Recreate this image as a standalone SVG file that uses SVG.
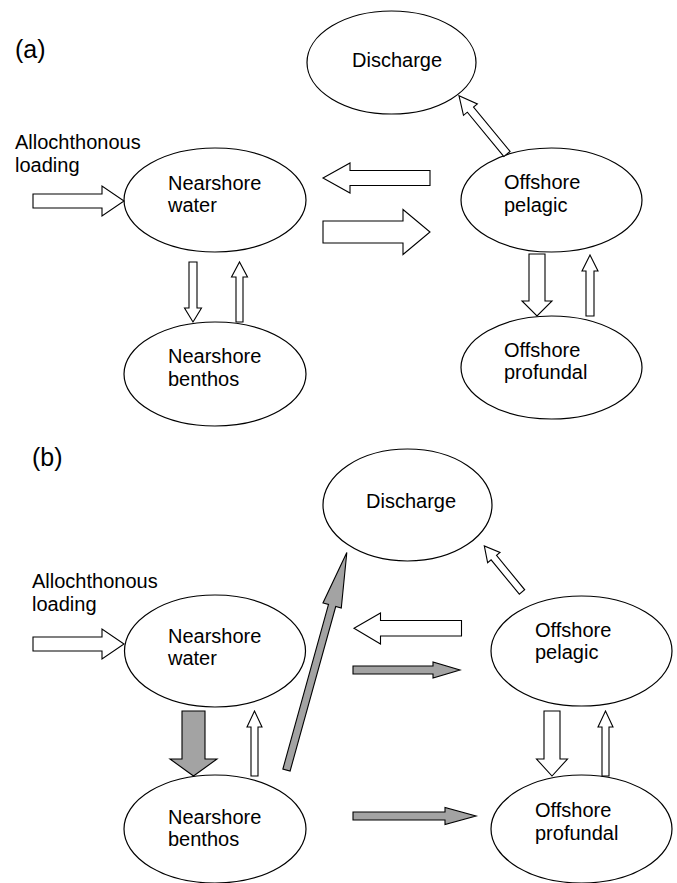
<svg xmlns="http://www.w3.org/2000/svg" width="677" height="883" viewBox="0 0 677 883">
<style>
.node{fill:#fff;stroke:#000;stroke-width:1.2}
.lbl{font-family:"Liberation Sans",Arial,sans-serif;font-size:20px;fill:#000}
.panel{font-family:"Liberation Sans",Arial,sans-serif;font-size:25px;fill:#000}
.aw{fill:#fff;stroke:#000;stroke-width:1.1;stroke-linejoin:miter}
.ag{fill:#a3a3a3;stroke:#000;stroke-width:1.1;stroke-linejoin:miter}
</style>
<rect width="677" height="883" fill="#fff"/>
<g id="panel-a">
<text class="panel" x="15" y="58">(a)</text>
<text class="lbl" x="15" y="149">Allochthonous</text>
<text class="lbl" x="15" y="172">loading</text>
<g id="a-discharge"><ellipse class="node" cx="391.5" cy="62.5" rx="84.5" ry="51.5"/><text class="lbl" x="352" y="67">Discharge</text></g>
<g id="a-nearshore-water"><ellipse class="node" cx="215" cy="200" rx="91" ry="52"/><text class="lbl" x="168" y="190">Nearshore</text><text class="lbl" x="168" y="212">water</text></g>
<g id="a-offshore-pelagic"><ellipse class="node" cx="551.5" cy="200" rx="90.5" ry="52"/><text class="lbl" x="504" y="189">Offshore</text><text class="lbl" x="504" y="212">pelagic</text></g>
<g id="a-nearshore-benthos"><ellipse class="node" cx="215" cy="374" rx="91" ry="52"/><text class="lbl" x="168" y="363">Nearshore</text><text class="lbl" x="168" y="386">benthos</text></g>
<g id="a-offshore-profundal"><ellipse class="node" cx="551.5" cy="367.5" rx="90.5" ry="51.5"/><text class="lbl" x="504" y="357">Offshore</text><text class="lbl" x="504" y="379">profundal</text></g>
<g id="a-connectors">
<polygon class="aw" points="33,194 102,194 102,186 124,201 102,216 102,208 33,208"/>
<polygon class="aw" points="430,170.5 350,170.5 350,163 323,178 350,193 350,185.5 430,185.5"/>
<polygon class="aw" points="323,221 403,221 403,209.5 430,232 403,254.5 403,243 323,243"/>
<polygon class="aw" transform="translate(507,154) rotate(-129.5)" points="0,-4 57.5,-4 57.5,-9 75.5,0 57.5,9 57.5,4 0,4"/>
<polygon class="aw" points="189,262 197,262 197,308 201.5,308 193,322 184.5,308 189,308"/>
<polygon class="aw" points="236,322 243,322 243,277 247.5,277 239.5,262 231.5,277 236,277"/>
<polygon class="aw" points="529,254 545,254 545,301 552,301 537,316 522,301 529,301"/>
<polygon class="aw" points="586,316 594,316 594,271 598,271 590,255 582,271 586,271"/>
</g>
</g>
<g id="panel-b">
<text class="panel" x="32" y="466">(b)</text>
<text class="lbl" x="32" y="588">Allochthonous</text>
<text class="lbl" x="32" y="611">loading</text>
<g id="b-discharge"><ellipse class="node" cx="407.5" cy="505" rx="84.5" ry="56"/><text class="lbl" x="366" y="508">Discharge</text></g>
<g id="b-nearshore-water"><ellipse class="node" cx="215" cy="651" rx="90.5" ry="56"/><text class="lbl" x="168" y="643">Nearshore</text><text class="lbl" x="168" y="665">water</text></g>
<g id="b-offshore-pelagic"><ellipse class="node" cx="581.5" cy="651" rx="90.5" ry="55"/><text class="lbl" x="535" y="637">Offshore</text><text class="lbl" x="535" y="659">pelagic</text></g>
<g id="b-nearshore-benthos"><ellipse class="node" cx="215" cy="829" rx="91" ry="54"/><text class="lbl" x="168" y="824">Nearshore</text><text class="lbl" x="168" y="846">benthos</text></g>
<g id="b-offshore-profundal"><ellipse class="node" cx="581.5" cy="829" rx="90.5" ry="54"/><text class="lbl" x="535" y="817">Offshore</text><text class="lbl" x="535" y="840">profundal</text></g>
<g id="b-connectors">
<polygon class="aw" points="33,637 102,637 102,629 124,644 102,659 102,651 33,651"/>
<polygon class="aw" points="461.5,620.5 380.5,620.5 380.5,613 354,628.3 380.5,644 380.5,636 461.5,636"/>
<polygon class="ag" points="353,666 433,666 433,662 460,670 433,678 433,674 353,674"/>
<polygon class="ag" points="353,812 445,812 445,807.5 476,816 445,824.5 445,820 353,820"/>
<polygon class="aw" transform="translate(522,592) rotate(-129.3)" points="0,-3.5 44.5,-3.5 44.5,-8 59.5,0 44.5,8 44.5,3.5 0,3.5"/>
<polygon class="ag" transform="translate(286.5,770) rotate(-74.5)" points="0,-3.75 170.7,-3.75 170.7,-9.5 225.7,0 170.7,9.5 170.7,3.75 0,3.75"/>
<polygon class="ag" points="182,711 205,711 205,759 217,759 193.5,776 170,759 182,759"/>
<polygon class="aw" points="251,776 258,776 258,727 262,727 254.5,711 247,727 251,727"/>
<polygon class="aw" points="544,711 560,711 560,759 567.5,759 552,776 536.5,759 544,759"/>
<polygon class="aw" points="602,776 609,776 609,727 613,727 605.5,711 598,727 602,727"/>
</g>
</g>
</svg>
